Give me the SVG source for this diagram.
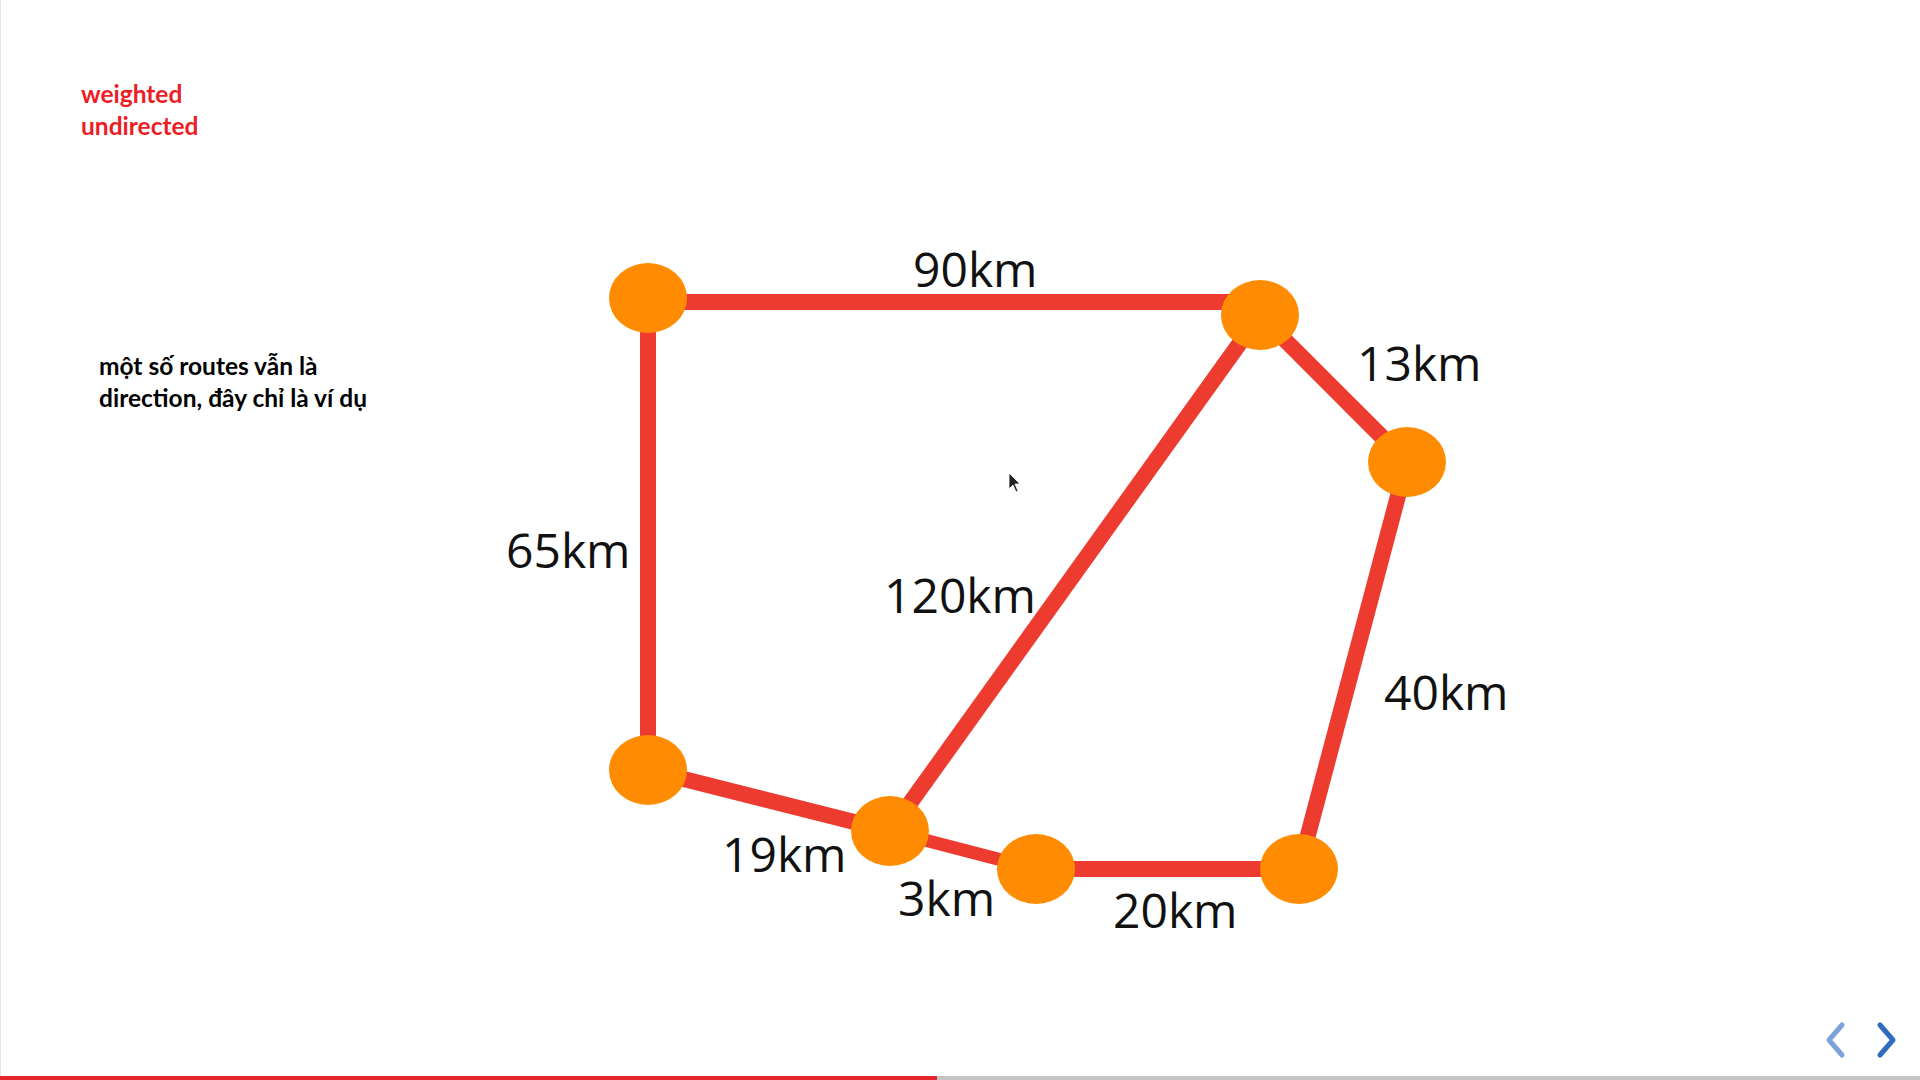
<svg xmlns="http://www.w3.org/2000/svg" width="1920" height="1080" viewBox="0 0 1920 1080">
<style>
.edge{stroke:#EE3B30;stroke-width:16;stroke-linecap:butt;fill:none}
.node{fill:#FF8C00}
.lbl{font-family:"Open Sans","Noto Sans",sans-serif;font-size:48px;fill:#111}
.note{font-family:"Lato","Open Sans",sans-serif;font-weight:bold;font-size:24.5px}
</style>
<rect width="1920" height="1080" fill="#ffffff"/>
<line x1="0.5" y1="0" x2="0.5" y2="1080" stroke="#e6e6e6"/>
<g id="notes">
<text class="note" fill="#EE1C24" x="81" y="103">weighted</text>
<text class="note" fill="#EE1C24" x="81" y="135">undirected</text>
<text class="note" fill="#000" x="99" y="375">một số routes vẫn là</text>
<text class="note" fill="#000" x="99" y="407">direction, đây chỉ là ví dụ</text>
</g>
<g id="edges">
<line class="edge" x1="648" y1="302" x2="1260" y2="302"/>
<line class="edge" x1="648" y1="298" x2="648" y2="770"/>
<line class="edge" x1="1260" y1="315" x2="1407" y2="462"/>
<line class="edge" x1="1260" y1="315" x2="890" y2="831"/>
<line class="edge" x1="1407" y1="462" x2="1299" y2="869"/>
<line class="edge" x1="648" y1="770" x2="890" y2="831"/>
<line class="edge" x1="890" y1="831" x2="1036" y2="869" style="stroke-width:13"/>
<line class="edge" x1="1036" y1="869" x2="1299" y2="869"/>
</g>
<g id="n1"><ellipse class="node" cx="648" cy="298" rx="39" ry="35"/></g>
<g id="n2"><ellipse class="node" cx="1260" cy="315" rx="39" ry="35"/></g>
<g id="n3"><ellipse class="node" cx="1407" cy="462" rx="39" ry="35"/></g>
<g id="n4"><ellipse class="node" cx="648" cy="770" rx="39" ry="35"/></g>
<g id="n5"><ellipse class="node" cx="890" cy="831" rx="39" ry="35"/></g>
<g id="n6"><ellipse class="node" cx="1036" cy="869" rx="39" ry="35"/></g>
<g id="n7"><ellipse class="node" cx="1299" cy="869" rx="39" ry="35"/></g>
<g id="labels">
<text class="lbl" x="913" y="287">90km</text>
<text class="lbl" x="1357" y="381">13km</text>
<text class="lbl" x="506" y="568">65km</text>
<text class="lbl" x="884" y="613">120km</text>
<text class="lbl" x="1384" y="710">40km</text>
<text class="lbl" x="722" y="872">19km</text>
<text class="lbl" x="898" y="916">3km</text>
<text class="lbl" x="1113" y="928">20km</text>
</g>
<path d="M1009,473 L1009,489 L1013,485 L1016,492 L1018,491 L1015,484 L1020,484 Z" fill="#222" stroke="#fff" stroke-width="0.8"/>
<g id="nav" fill="none" stroke-width="5" stroke-linecap="round" stroke-linejoin="round">
<polyline points="1842,1025 1829,1040 1842,1055" stroke="#7BA3D8"/>
<polyline points="1880,1025 1893,1040 1880,1055" stroke="#2F6BC0"/>
</g>
<rect x="0" y="1076" width="937" height="4" fill="#E3262B"/>
<rect x="937" y="1076" width="983" height="4" fill="#c4c4c4"/>
</svg>
